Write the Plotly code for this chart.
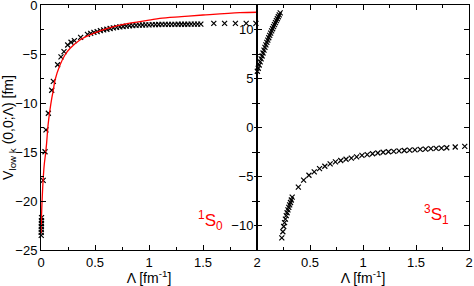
import plotly.graph_objects as go

# ---- 1S0 (left panel) ----
s0_x = [0.002, 0.002, 0.003, 0.003, 0.004, 0.004, 0.005, 0.02, 0.037, 0.046, 0.068, 0.099, 0.114,
        0.154, 0.185, 0.213, 0.247, 0.278, 0.309, 0.367, 0.43,
        0.46, 0.49, 0.52, 0.55, 0.58, 0.61, 0.64, 0.67, 0.70, 0.73, 0.76, 0.79, 0.82, 0.85, 0.88,
        0.91, 0.94, 0.97, 1.00, 1.03, 1.06, 1.09, 1.12, 1.15, 1.18, 1.21, 1.24, 1.27, 1.30, 1.33,
        1.36, 1.39, 1.42, 1.45, 1.48, 1.6, 1.7, 1.8, 1.9, 1.99]
s0_y = [-23.5, -23.2, -22.9, -22.6, -22.3, -22.0, -21.7, -17.9, -14.97, -12.75, -11.05, -8.7, -7.8,
        -6.1, -5.3, -4.76, -4.08, -3.8, -3.64, -3.3, -3.0,
        -2.9, -2.8, -2.71, -2.62, -2.54, -2.47, -2.4, -2.34, -2.28, -2.23, -2.19, -2.15, -2.12, -2.1, -2.08,
        -2.06, -2.04, -2.03, -2.02, -2.01, -2.0, -1.99, -1.98, -1.98, -1.97, -1.97, -1.97, -1.96, -1.96, -1.96,
        -1.96, -1.95, -1.95, -1.95, -1.95, -1.88, -1.88, -1.87, -1.87, -1.87]

red_x = [0.0, 0.005, 0.01, 0.02, 0.03, 0.043, 0.052, 0.065, 0.083, 0.1, 0.114, 0.13, 0.176, 0.222,
         0.27, 0.36, 0.45, 0.546, 0.64, 0.8, 1.0, 1.1, 1.3, 1.5, 1.84, 2.0]
red_y = [-23.3, -21.5, -20.0, -17.8, -16.3, -15.1, -14.1, -12.3, -10.7, -9.5, -8.7, -7.65, -6.12, -5.1,
         -4.42, -3.57, -3.06, -2.65, -2.3, -1.9, -1.55, -1.36, -1.18, -1.02, -0.78, -0.74]

# ---- 3S1 (right panel) ----
s1_xu = [0.003, 0.012, 0.021, 0.030, 0.039, 0.048, 0.057, 0.066, 0.075, 0.084, 0.093, 0.102, 0.111,
         0.120, 0.129, 0.138, 0.147, 0.156, 0.165, 0.174, 0.183, 0.192, 0.201, 0.210, 0.219]
s1_yu = [5.74, 6.05, 6.38, 6.7, 7.0, 7.3, 7.6, 7.9, 8.17, 8.43, 8.68, 8.92, 9.16,
         9.4, 9.63, 9.86, 10.08, 10.3, 10.5, 10.7, 10.9, 11.1, 11.3, 11.5, 11.7]
s1_xl = [0.234, 0.244, 0.252, 0.26, 0.268, 0.276, 0.284, 0.292, 0.300, 0.308, 0.316, 0.324, 0.332,
         0.39, 0.44, 0.49, 0.54, 0.59, 0.64, 0.69, 0.74, 0.79, 0.84, 0.89, 0.94, 0.99, 1.04, 1.09,
         1.14, 1.19, 1.24, 1.29, 1.34, 1.39, 1.44, 1.49, 1.54, 1.59, 1.64, 1.69, 1.74, 1.79, 1.87, 1.96]
s1_yl = [-11.26, -10.64, -10.1, -9.7, -9.35, -9.0, -8.7, -8.4, -8.15, -7.9, -7.65, -7.4, -7.1,
         -6.09, -5.37, -4.87, -4.52, -4.2, -3.95, -3.71, -3.5, -3.37, -3.24, -3.12, -3.0, -2.85, -2.76, -2.68,
         -2.6, -2.53, -2.47, -2.43, -2.39, -2.35, -2.31, -2.28, -2.24, -2.2, -2.16, -2.13, -2.1, -2.07, -1.99, -1.93]

left_xticks = [0, 0.5, 1, 1.5, 2]
left_xlabels = ["0", "0.5", "1", "1.5", "2"]
right_xticks = [0.5, 1, 1.5, 2]
right_xlabels = ["0.5", "1", "1.5", "2"]
left_yticks = [0, -5, -10, -15, -20, -25]
right_yticks = [10, 5, 0, -5, -10]

FONT = "Liberation Sans, Arial, sans-serif"
mk = dict(symbol="x-thin", size=5, color="black", line=dict(width=1.2, color="black"))

fig = go.Figure()
fig.add_trace(go.Scatter(x=s0_x, y=s0_y, mode="markers", marker=mk, xaxis="x", yaxis="y",
                         showlegend=False, cliponaxis=False))
fig.add_trace(go.Scatter(x=red_x, y=red_y, mode="lines", line=dict(color="red", width=1.3),
                         xaxis="x", yaxis="y", showlegend=False, line_shape="spline"))
fig.add_trace(go.Scatter(x=s1_xu, y=s1_yu, mode="markers", marker=mk, xaxis="x2", yaxis="y2",
                         showlegend=False, cliponaxis=False))
fig.add_trace(go.Scatter(x=s1_xl, y=s1_yl, mode="markers", marker=mk, xaxis="x2", yaxis="y2",
                         showlegend=False, cliponaxis=False))

split = 216 / 428
common = dict(showline=True, linecolor="black", linewidth=1, mirror="ticks", ticks="inside",
              ticklen=5, tickcolor="black", showgrid=False, zeroline=False, automargin=False,
              ticklabeloverflow="allow",
              tickfont=dict(family=FONT, size=13, color="black"))
minor_x = dict(dtick=0.25, ticklen=3, ticks="inside", tickcolor="black")
minor_y = dict(dtick=2.5, ticklen=3, ticks="inside", tickcolor="black")
xtitle = dict(text="Λ [fm<sup>-1</sup>]", font=dict(size=14, family=FONT), standoff=2)

fig.update_layout(
    width=474, height=286, margin=dict(l=41, r=5, t=5, b=36),
    paper_bgcolor="white", plot_bgcolor="white",
    font=dict(family=FONT, color="black"),
    xaxis=dict(domain=[0, split], range=[0, 2], tickvals=left_xticks, ticktext=left_xlabels,
               minor=minor_x, title=xtitle, anchor="y", **common),
    yaxis=dict(domain=[0, 1], range=[-25.0001, 0.0001], tickvals=left_yticks, minor=minor_y,
               title=dict(text="V<sub>low k</sub> (0,0;Λ) [fm]", font=dict(size=14, family=FONT), standoff=2),
               anchor="x", **common),
    xaxis2=dict(domain=[split, 1], range=[0, 2], tickvals=right_xticks, ticktext=right_xlabels,
                minor=minor_x, title=xtitle, anchor="y2", **common),
    yaxis2=dict(domain=[0, 1], range=[-12.5, 12.5], tickvals=right_yticks, minor=minor_y,
                anchor="x2", **common),
)
fig.add_annotation(x=1.57, y=-22.0, xref="x", yref="y", text="<sup>1</sup>S<sub>0</sub>",
                   showarrow=False, font=dict(color="red", size=17, family=FONT))
fig.add_annotation(x=1.69, y=-8.9, xref="x2", yref="y2", text="<sup>3</sup>S<sub>1</sub>",
                   showarrow=False, font=dict(color="red", size=17, family=FONT))
fig.write_html("out.html", config={"displayModeBar": False},
               post_script="document.body.style.margin='0px';document.body.style.overflow='hidden';")
